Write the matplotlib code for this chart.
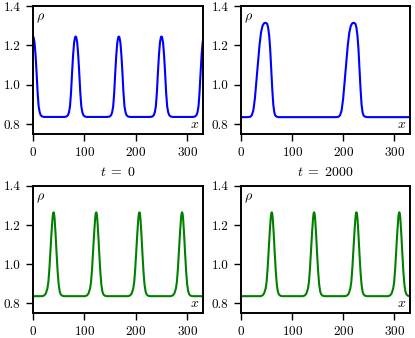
import matplotlib
matplotlib.use("Agg")
import matplotlib.pyplot as plt

plt.rcParams['font.family'] = 'serif'
plt.rcParams['font.serif'] = ['cmr10', 'DejaVu Serif']
plt.rcParams['mathtext.fontset'] = 'cm'
plt.rcParams['axes.unicode_minus'] = False
plt.rcParams['axes.formatter.use_mathtext'] = True
plt.rcParams['font.size'] = 10

# Data: density rho along x for each panel
# top left, blue, t = 0
x_a = [0, 1, 3, 5, 7, 9, 11, 13, 15, 18, 22,
       61, 65, 68, 70, 72, 74, 76, 78, 80, 82, 83, 84, 86, 88, 90, 92, 94, 96, 98, 101, 105,
       145, 149, 152, 154, 156, 158, 160, 162, 164, 166, 167, 168, 170, 172, 174, 176, 178, 180, 182, 185, 189,
       228, 232, 235, 237, 239, 241, 243, 245, 247, 249, 250, 251, 253, 255, 257, 259, 261, 263, 265, 268, 272,
       311, 315, 318, 320, 322, 324, 326, 328, 330, 332, 333]
rho_a = [1.245, 1.243, 1.215, 1.15, 1.06, 0.96, 0.89, 0.86, 0.845, 0.838, 0.836,
         0.836, 0.838, 0.845, 0.86, 0.89, 0.96, 1.06, 1.15, 1.215, 1.243, 1.245, 1.243, 1.215, 1.15, 1.06, 0.96, 0.89, 0.86, 0.845, 0.838, 0.836,
         0.836, 0.838, 0.845, 0.86, 0.89, 0.96, 1.06, 1.15, 1.215, 1.243, 1.245, 1.243, 1.215, 1.15, 1.06, 0.96, 0.89, 0.86, 0.845, 0.838, 0.836,
         0.836, 0.838, 0.845, 0.86, 0.89, 0.96, 1.06, 1.15, 1.215, 1.243, 1.245, 1.243, 1.215, 1.15, 1.06, 0.96, 0.89, 0.86, 0.845, 0.838, 0.836,
         0.836, 0.838, 0.845, 0.86, 0.89, 0.96, 1.06, 1.15, 1.215, 1.243, 1.245]

# top right, blue, t = 2000
x_b = [0,
       14, 18, 21, 24, 27, 30, 33, 36, 39, 42, 45, 48, 51, 53, 55, 57, 59, 61, 63, 65, 67, 70, 74,
       187, 191, 194, 197, 200, 203, 206, 209, 212, 215, 218, 221, 224, 226, 228, 230, 232, 234, 236, 238, 240, 243, 247,
       333]
rho_b = [0.835,
         0.835, 0.837, 0.845, 0.87, 0.93, 1.02, 1.11, 1.20, 1.265, 1.30, 1.313, 1.315, 1.31, 1.29, 1.25, 1.18, 1.08, 0.98, 0.90, 0.86, 0.843, 0.837, 0.835,
         0.835, 0.837, 0.845, 0.87, 0.93, 1.02, 1.11, 1.20, 1.265, 1.30, 1.313, 1.315, 1.31, 1.29, 1.25, 1.18, 1.08, 0.98, 0.90, 0.86, 0.843, 0.837, 0.835,
         0.835]

# bottom left, green
x_c = [0,
       18, 22, 25, 28, 30, 32, 34, 36, 38, 39, 40, 41, 42, 44, 46, 48, 50, 52, 54, 57, 61,
       101, 105, 108, 111, 113, 115, 117, 119, 121, 122, 123, 124, 125, 127, 129, 131, 133, 135, 137, 140, 144,
       185, 189, 192, 195, 197, 199, 201, 203, 205, 206, 207, 208, 209, 211, 213, 215, 217, 219, 221, 224, 228,
       268, 272, 275, 278, 280, 282, 284, 286, 288, 289, 290, 291, 292, 294, 296, 298, 300, 302, 304, 307, 311,
       333]
rho_c = [0.836,
         0.836, 0.84, 0.85, 0.875, 0.91, 0.98, 1.07, 1.16, 1.235, 1.258, 1.265, 1.258, 1.235, 1.15, 1.05, 0.96, 0.895, 0.86, 0.845, 0.838, 0.836,
         0.836, 0.84, 0.85, 0.875, 0.91, 0.98, 1.07, 1.16, 1.235, 1.258, 1.265, 1.258, 1.235, 1.15, 1.05, 0.96, 0.895, 0.86, 0.845, 0.838, 0.836,
         0.836, 0.84, 0.85, 0.875, 0.91, 0.98, 1.07, 1.16, 1.235, 1.258, 1.265, 1.258, 1.235, 1.15, 1.05, 0.96, 0.895, 0.86, 0.845, 0.838, 0.836,
         0.836, 0.84, 0.85, 0.875, 0.91, 0.98, 1.07, 1.16, 1.235, 1.258, 1.265, 1.258, 1.235, 1.15, 1.05, 0.96, 0.895, 0.86, 0.845, 0.838, 0.836,
         0.836]

# bottom right, green
x_d = [0,
       38, 42, 45, 48, 50, 52, 54, 56, 58, 59, 60, 61, 62, 64, 66, 68, 70, 72, 74, 77, 81,
       121, 125, 128, 131, 133, 135, 137, 139, 141, 142, 143, 144, 145, 147, 149, 151, 153, 155, 157, 160, 164,
       204, 208, 211, 214, 216, 218, 220, 222, 224, 225, 226, 227, 228, 230, 232, 234, 236, 238, 240, 243, 247,
       288, 292, 295, 298, 300, 302, 304, 306, 308, 309, 310, 311, 312, 314, 316, 318, 320, 322, 324, 327, 331,
       333]
rho_d = rho_c

x_ticks = [0, 100, 200, 300]
y_ticks = [0.8, 1.0, 1.2, 1.4]
titles = [r'$t\;=\;0$', r'$t\;=\;2000$']

fig = plt.figure(figsize=(4.15, 3.38), dpi=100)
boxes = [[0.0795, 0.604, 0.410, 0.378],
         [0.581, 0.604, 0.407, 0.378],
         [0.0795, 0.074, 0.410, 0.376],
         [0.581, 0.074, 0.407, 0.376]]
series = [(x_a, rho_a, 'blue'), (x_b, rho_b, 'blue'),
          (x_c, rho_c, 'green'), (x_d, rho_d, 'green')]

for i, (box, (xs, ys, col)) in enumerate(zip(boxes, series)):
    ax = fig.add_axes(box)
    ax.plot(xs, ys, color=col, lw=1.5)
    ax.set_xlim(0, 331)
    ax.set_ylim(0.75, 1.4)
    ax.set_xticks(x_ticks)
    ax.set_yticks(y_ticks)
    ax.set_yticklabels(['%.1f' % v for v in y_ticks])
    ax.tick_params(direction='out', length=5, width=1, pad=4, labelsize=9.5)
    for s in ax.spines.values():
        s.set_linewidth(1.4)
    ax.text(0.02, 0.955, r'$\rho$', transform=ax.transAxes, ha='left', va='top')
    ax.text(0.98, 0.025, r'$x$', transform=ax.transAxes, ha='right', va='bottom')
    if i < 2:
        ax.set_xlabel(titles[i], labelpad=5)

fig.savefig('out.png', dpi=100)
